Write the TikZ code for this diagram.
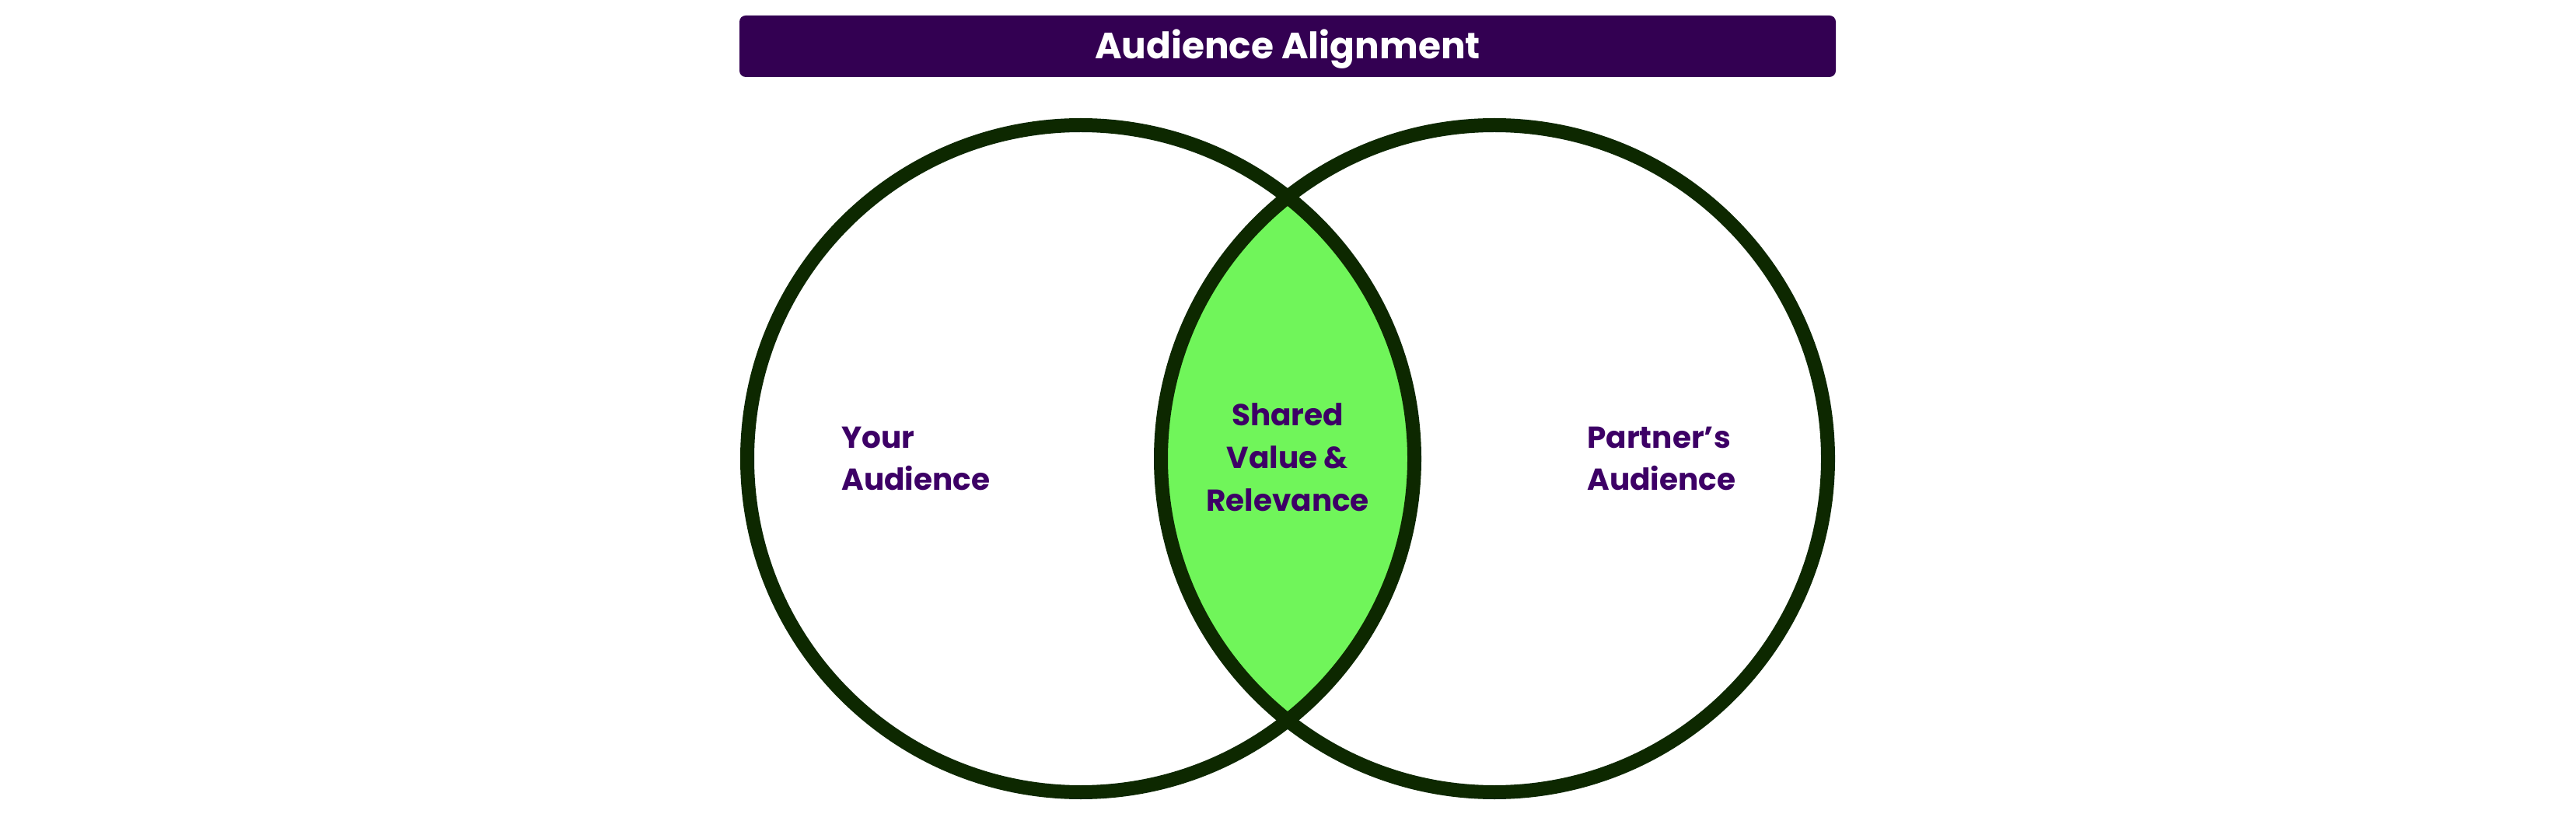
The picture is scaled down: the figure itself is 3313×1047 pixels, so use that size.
\documentclass[tikz,border=0pt]{standalone}
\usepackage{fontspec}
\setmainfont{Poppins}
\definecolor{titlebg}{HTML}{330052}
\definecolor{labelpurple}{HTML}{3D0066}
\definecolor{sharedgreen}{HTML}{70F55A}
\definecolor{ringgreen}{HTML}{0D2800}
\begin{document}
\begin{tikzpicture}[x=0.5pt,y=-0.5pt,
  titlebar/.style={fill=titlebg, rounded corners=4pt},
  ring/.style={draw=ringgreen, line width=9pt},
  label/.style={text=labelpurple, font=\bfseries\fontsize{19.5}{27.5}\selectfont, inner sep=0pt},
  titletext/.style={text=white, font=\bfseries\fontsize{23.5}{30}\selectfont, inner sep=0pt}]
\useasboundingbox (0,0) rectangle (3313,1047);
\fill[white] (0,0) rectangle (3313,1047);
% title
\fill[titlebar] (951,20) rectangle (2361,99);
\node[titletext, anchor=base] (title) at (1656,76) {Audience Alignment};
% circles
\coordinate (cl) at (1390,590);
\coordinate (cr) at (1922,590);
\begin{scope}
  \clip (cl) circle [radius=429];
  \fill[sharedgreen] (cr) circle [radius=429];
\end{scope}
\draw[ring] (cl) circle [radius=429];
\draw[ring] (cr) circle [radius=429];
% labels
\node[label, anchor=base west, align=left] (your) at (1082,631) {Your\\Audience};
\node[label, anchor=base west, align=left] (partner) at (2041,631) {Partner’s\\Audience};
\node[label, anchor=base, align=center] (shared) at (1656,657) {Shared\\Value \&\\Relevance};
\end{tikzpicture}
\end{document}
